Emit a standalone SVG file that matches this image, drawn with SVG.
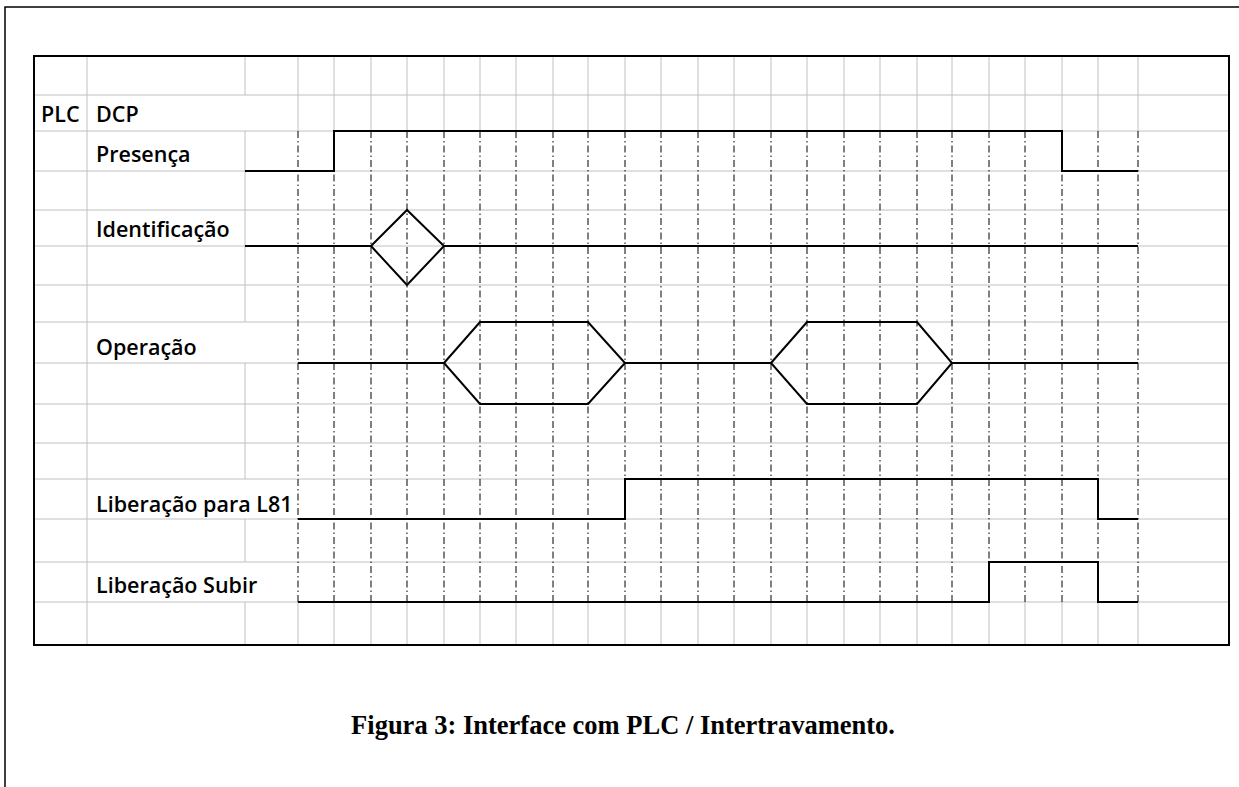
<svg xmlns="http://www.w3.org/2000/svg" width="1239" height="787" viewBox="0 0 1239 787">
<style>
.bg{fill:#fff}
.frame{fill:none;stroke:#000;stroke-width:1.5}
.tbl{fill:none;stroke:#000;stroke-width:2}
.grid{stroke:#c0c0c0;stroke-width:1;fill:none}
.dash{stroke:#000;stroke-width:1;stroke-dasharray:7 3 1.5 3;fill:none}
.sig{fill:none;stroke:#000;stroke-width:2;stroke-linejoin:miter}
.lbl{font-family:"Open Sans","Liberation Sans",sans-serif;font-weight:600;font-size:21.5px;fill:#000}
.cap{font-family:"Liberation Serif","Times New Roman",serif;font-weight:bold;font-size:26.5px;fill:#000}
</style>
<rect class="bg" x="0" y="0" width="1239" height="787"/>
<path id="outer-frame" class="frame" d="M5,787 V7 H1239"/>

<g id="grid">
  <path class="grid" d="M34,95H1229 M34,131H1229 M34,171H1229 M34,210H1229 M34,246H1229 M34,285H1229 M34,322H1229 M34,363H1229 M34,404H1229 M34,443H1229 M34,479H1229 M34,519H1229 M34,562H1229 M34,602H1229"/>
  <path class="grid" d="M87,56V645"/>
  <path class="grid" d="M245,56V95 M245,131V322 M245,363V479 M245,519V562 M245,602V645"/>
  <path class="grid" d="M298,56V131M334,56V131M371,56V131M407,56V131M444,56V131M480,56V131M516,56V131M553,56V131M588,56V131M625,56V131M661,56V131M698,56V131M734,56V131M771,56V131M807,56V131M844,56V131M880,56V131M917,56V131M952,56V131M989,56V131M1025,56V131M1062,56V131M1098,56V131M1138,56V131"/>
  <path class="grid" d="M298,602V645M334,602V645M371,602V645M407,602V645M444,602V645M480,602V645M516,602V645M553,602V645M588,602V645M625,602V645M661,602V645M698,602V645M734,602V645M771,602V645M807,602V645M844,602V645M880,602V645M917,602V645M952,602V645M989,602V645M1025,602V645M1062,602V645M1098,602V645M1138,602V645"/>
  <path class="dash" d="M298,131V602M334,131V602M371,131V602M407,131V602M444,131V602M480,131V602M516,131V602M553,131V602M588,131V602M625,131V602M661,131V602M698,131V602M734,131V602M771,131V602M807,131V602M844,131V602M880,131V602M917,131V602M952,131V602M989,131V602M1025,131V602M1062,131V602M1098,131V602M1138,131V602"/>
  <rect class="tbl" x="34" y="56" width="1195" height="589"/>
</g>

<g id="labels">
  <text class="lbl" x="41" y="122">PLC</text>
  <text class="lbl" x="96" y="122">DCP</text>
  <text class="lbl" x="96" y="162">Presença</text>
  <text class="lbl" x="96" y="237">Identificação</text>
  <text class="lbl" x="96" y="355">Operação</text>
  <text class="lbl" x="96" y="512">Liberação para L81</text>
  <text class="lbl" x="96" y="593">Liberação Subir</text>
</g>

<g id="signal-presenca">
  <path class="sig" d="M245,171H334V131H1062V171H1138"/>
</g>
<g id="signal-identificacao">
  <path class="sig" d="M245,246H371L407,210L444,246L407,285L371,246 M444,246H1138"/>
</g>
<g id="signal-operacao">
  <path class="sig" d="M298,363H444 M444,363L480,322H588L625,363L588,404H480Z M625,363H771 M771,363L807,322H917L952,363L917,404H807Z M952,363H1138"/>
</g>
<g id="signal-liberacao-l81">
  <path class="sig" d="M298,519H625V479H1098V519H1138"/>
</g>
<g id="signal-liberacao-subir">
  <path class="sig" d="M298,602H989V562H1098V602H1138"/>
</g>

<text id="caption" class="cap" x="623" y="734" text-anchor="middle">Figura 3: Interface com PLC / Intertravamento.</text>
</svg>
